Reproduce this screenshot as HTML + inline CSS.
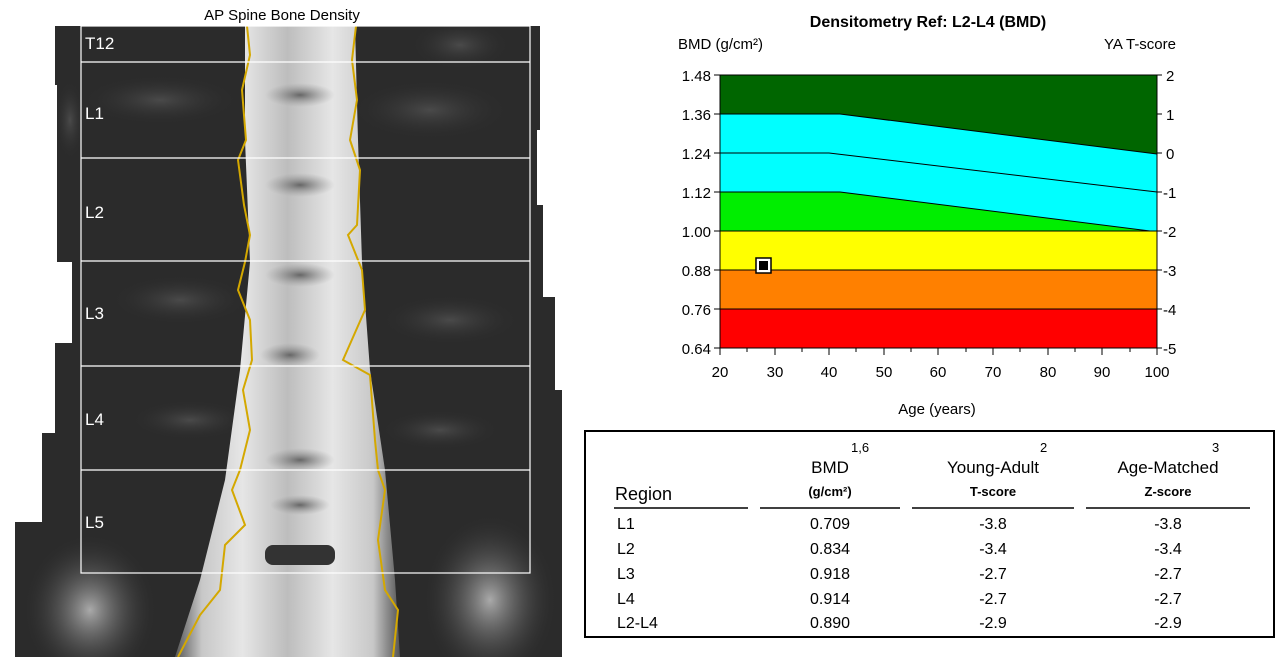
<!DOCTYPE html>
<html><head><meta charset="utf-8"><style>
html,body{margin:0;padding:0;background:#fff;width:1277px;height:657px;overflow:hidden;position:relative}
svg{display:block;position:absolute;left:0;top:0;overflow:hidden}
text{font-family:"Liberation Sans",sans-serif}
</style></head><body>
<svg width="1277" height="657" viewBox="0 0 1277 657" xmlns="http://www.w3.org/2000/svg">
<defs>
<linearGradient id="sp" x1="0" x2="1" y1="0" y2="0">
<stop offset="0" stop-color="#555"/><stop offset="0.12" stop-color="#c8c8c8"/><stop offset="0.3" stop-color="#e6e6e6"/><stop offset="0.5" stop-color="#bdbdbd"/><stop offset="0.7" stop-color="#e6e6e6"/><stop offset="0.88" stop-color="#c8c8c8"/><stop offset="1" stop-color="#555"/>
</linearGradient>
<radialGradient id="hip" cx="0.5" cy="0.5" r="0.5"><stop offset="0" stop-color="#aaa"/><stop offset="1" stop-color="#222" stop-opacity="0"/></radialGradient>
<radialGradient id="dk" cx="0.5" cy="0.5" r="0.5"><stop offset="0" stop-color="#666"/><stop offset="1" stop-color="#999" stop-opacity="0"/></radialGradient>
<radialGradient id="gl" cx="0.5" cy="0.5" r="0.5"><stop offset="0" stop-color="#4a4a4a"/><stop offset="1" stop-color="#2b2b2b" stop-opacity="0"/></radialGradient>
<clipPath id="xr"><path d="M55,26 L540,26 L540,130 L537,130 L537,205 L543,205 L543,297 L555,297 L555,390 L562,390 L562,657 L15,657 L15,522 L42,522 L42,433 L55,433 L55,343 L72,343 L72,262 L57,262 L57,85 L55,85 Z"/></clipPath>
</defs>
<text x="282" y="20" font-size="15" text-anchor="middle" fill="#000">AP Spine Bone Density</text>
<g clip-path="url(#xr)">
<rect x="0" y="26" width="570" height="631" fill="#2b2b2b"/>
<ellipse cx="70" cy="120" rx="15" ry="40" fill="url(#gl)"/>
<ellipse cx="460" cy="45" rx="50" ry="25" fill="url(#gl)"/>
<ellipse cx="160" cy="100" rx="80" ry="25" fill="url(#gl)"/>
<ellipse cx="430" cy="110" rx="80" ry="30" fill="url(#gl)"/>
<ellipse cx="180" cy="300" rx="70" ry="25" fill="url(#gl)"/>
<ellipse cx="450" cy="320" rx="70" ry="25" fill="url(#gl)"/>
<ellipse cx="190" cy="420" rx="60" ry="20" fill="url(#gl)"/>
<ellipse cx="440" cy="430" rx="60" ry="20" fill="url(#gl)"/>
<ellipse cx="90" cy="610" rx="70" ry="80" fill="url(#hip)"/>
<ellipse cx="490" cy="600" rx="70" ry="90" fill="url(#hip)"/>
<path d="M245,26 L355,26 L358,140 L362,262 L370,370 L385,470 L395,580 L400,657 L175,657 L200,580 L225,480 L240,370 L250,262 L245,140 Z" fill="url(#sp)"/>
<g fill="url(#dk)">
<ellipse cx="300" cy="95" rx="35" ry="12"/><ellipse cx="300" cy="185" rx="35" ry="12"/>
<ellipse cx="300" cy="275" rx="35" ry="12"/><ellipse cx="290" cy="355" rx="30" ry="12"/>
<ellipse cx="300" cy="460" rx="35" ry="12"/><ellipse cx="300" cy="505" rx="30" ry="10"/>
</g>
<rect x="265" y="545" width="70" height="20" rx="8" fill="#333"/>
<g fill="none" stroke="#d4a800" stroke-width="2">
<path d="M247,26 L250,55 L242,90 L246,140 L238,160 L244,205 L250,235 L245,262 L238,290 L250,320 L252,360 L243,390 L250,430 L240,470 L232,490 L245,525 L225,545 L220,590 L200,615 L178,657"/>
<path d="M356,26 L352,60 L357,100 L350,140 L360,170 L357,225 L348,235 L362,270 L365,310 L343,360 L370,375 L375,440 L378,470 L385,490 L378,540 L385,590 L398,610 L393,657"/>
</g>
</g>
<g fill="none" stroke="#fff" stroke-width="1.2">
<rect x="81" y="26" width="449" height="547"/>
<line x1="81" y1="62" x2="530" y2="62"/><line x1="81" y1="158" x2="530" y2="158"/>
<line x1="81" y1="261" x2="530" y2="261"/><line x1="81" y1="366" x2="530" y2="366"/>
<line x1="81" y1="470" x2="530" y2="470"/>
</g>
<g fill="#fff" font-size="17">
<text x="85" y="49">T12</text><text x="85" y="119">L1</text><text x="85" y="218">L2</text>
<text x="85" y="319">L3</text><text x="85" y="425">L4</text><text x="85" y="528">L5</text>
</g>
<text x="928" y="27" font-size="16" font-weight="bold" text-anchor="middle">Densitometry Ref: L2-L4 (BMD)</text>
<text x="678" y="49" font-size="15">BMD (g/cm²)</text>
<text x="1176" y="49" font-size="15" text-anchor="end">YA T-score</text>
<rect x="720" y="75" width="437" height="273" fill="#006600"/>
<path d="M720,114 L840,114 L1157,154 L1157,231 L720,231 Z" fill="#00ffff"/>
<path d="M720,192 L840,192 L1150,231 L720,231 Z" fill="#00ee00"/>
<rect x="720" y="231" width="437" height="39" fill="#ffff00"/>
<rect x="720" y="270" width="437" height="39" fill="#ff8000"/>
<rect x="720" y="309" width="437" height="39" fill="#ff0000"/>
<g stroke="#000" stroke-width="1" fill="none">
<path d="M720,114 L840,114 L1157,154"/><path d="M720,153 L829,153 L1157,192"/><path d="M720,192 L840,192 L1150,231"/>
<line x1="720" y1="231" x2="1157" y2="231"/><line x1="720" y1="270" x2="1157" y2="270"/><line x1="720" y1="309" x2="1157" y2="309"/>
<rect x="720" y="75" width="437" height="273"/>
</g>
<g stroke="#000">
<line x1="714" y1="75" x2="720" y2="75"/><line x1="714" y1="114" x2="720" y2="114"/><line x1="714" y1="153" x2="720" y2="153"/><line x1="714" y1="192" x2="720" y2="192"/><line x1="714" y1="231" x2="720" y2="231"/><line x1="714" y1="270" x2="720" y2="270"/><line x1="714" y1="309" x2="720" y2="309"/><line x1="714" y1="348" x2="720" y2="348"/>
<line x1="1157" y1="75" x2="1162" y2="75"/><line x1="1157" y1="114" x2="1162" y2="114"/><line x1="1157" y1="153" x2="1162" y2="153"/><line x1="1157" y1="192" x2="1162" y2="192"/><line x1="1157" y1="231" x2="1162" y2="231"/><line x1="1157" y1="270" x2="1162" y2="270"/><line x1="1157" y1="309" x2="1162" y2="309"/><line x1="1157" y1="348" x2="1162" y2="348"/>
</g>
<g stroke="#000">
<line x1="720" y1="348" x2="720" y2="355"/><line x1="747" y1="348" x2="747" y2="352"/><line x1="775" y1="348" x2="775" y2="355"/><line x1="802" y1="348" x2="802" y2="352"/><line x1="829" y1="348" x2="829" y2="355"/><line x1="856" y1="348" x2="856" y2="352"/><line x1="884" y1="348" x2="884" y2="355"/><line x1="911" y1="348" x2="911" y2="352"/><line x1="938" y1="348" x2="938" y2="355"/><line x1="966" y1="348" x2="966" y2="352"/><line x1="993" y1="348" x2="993" y2="355"/><line x1="1020" y1="348" x2="1020" y2="352"/><line x1="1048" y1="348" x2="1048" y2="355"/><line x1="1075" y1="348" x2="1075" y2="352"/><line x1="1102" y1="348" x2="1102" y2="355"/><line x1="1130" y1="348" x2="1130" y2="352"/><line x1="1157" y1="348" x2="1157" y2="355"/>
</g>
<g font-size="15" text-anchor="end">
<text x="711" y="81">1.48</text><text x="711" y="120">1.36</text><text x="711" y="159">1.24</text><text x="711" y="198">1.12</text><text x="711" y="237">1.00</text><text x="711" y="276">0.88</text><text x="711" y="315">0.76</text><text x="711" y="354">0.64</text>
</g>
<g font-size="15">
<text x="1166" y="81">2</text><text x="1166" y="120">1</text><text x="1166" y="159">0</text><text x="1163" y="198">-1</text><text x="1163" y="237">-2</text><text x="1163" y="276">-3</text><text x="1163" y="315">-4</text><text x="1163" y="354">-5</text>
</g>
<g font-size="15" text-anchor="middle">
<text x="720" y="377">20</text><text x="775" y="377">30</text><text x="829" y="377">40</text><text x="884" y="377">50</text><text x="938" y="377">60</text><text x="993" y="377">70</text><text x="1048" y="377">80</text><text x="1102" y="377">90</text><text x="1157" y="377">100</text>
<text x="937" y="414">Age (years)</text>
</g>
<rect x="756" y="258" width="15" height="15" fill="#fff" stroke="#000" stroke-width="1.5"/>
<rect x="759" y="261" width="9" height="9" fill="#000"/>
<rect x="585" y="431" width="689" height="206" fill="#fff" stroke="#000" stroke-width="2"/>
<g font-size="13"><text x="851" y="452">1,6</text><text x="1040" y="452">2</text><text x="1212" y="452">3</text></g>
<g font-size="17" text-anchor="middle">
<text x="830" y="473">BMD</text><text x="993" y="473">Young-Adult</text><text x="1168" y="473">Age-Matched</text>
</g>
<text x="615" y="500" font-size="18">Region</text>
<g font-size="13" font-weight="bold" text-anchor="middle">
<text x="830" y="496">(g/cm²)</text><text x="993" y="496">T-score</text><text x="1168" y="496">Z-score</text>
</g>
<g stroke="#000" stroke-width="1.5">
<line x1="614" y1="508" x2="748" y2="508"/><line x1="760" y1="508" x2="900" y2="508"/><line x1="912" y1="508" x2="1074" y2="508"/><line x1="1086" y1="508" x2="1250" y2="508"/>
</g>
<g font-size="16">
<text x="617" y="529">L1</text><text x="617" y="554">L2</text><text x="617" y="579">L3</text><text x="617" y="604">L4</text><text x="617" y="628">L2-L4</text>
</g>
<g font-size="16" text-anchor="middle">
<text x="830" y="529">0.709</text><text x="830" y="554">0.834</text><text x="830" y="579">0.918</text><text x="830" y="604">0.914</text><text x="830" y="628">0.890</text>
<text x="993" y="529">-3.8</text><text x="993" y="554">-3.4</text><text x="993" y="579">-2.7</text><text x="993" y="604">-2.7</text><text x="993" y="628">-2.9</text>
<text x="1168" y="529">-3.8</text><text x="1168" y="554">-3.4</text><text x="1168" y="579">-2.7</text><text x="1168" y="604">-2.7</text><text x="1168" y="628">-2.9</text>
</g>
</svg>
</body></html>
